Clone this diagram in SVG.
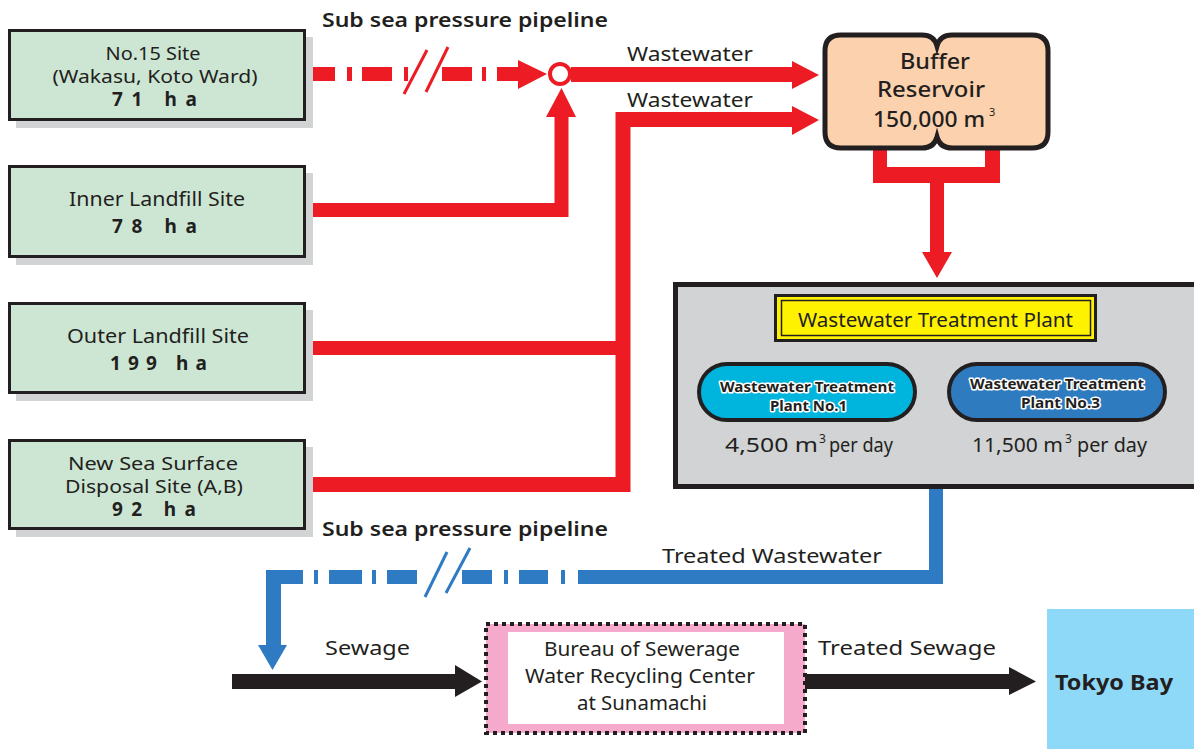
<svg xmlns="http://www.w3.org/2000/svg" width="1194" height="749" viewBox="0 0 1194 749">
<defs>
<style>
.t{font-family:"Noto Sans","Liberation Sans",sans-serif;fill:#231f20;font-size:19px}
.b{font-weight:bold}
.sb{font-weight:600}
.m{text-anchor:middle}
.f17{font-size:17.5px}
.f20{font-size:20px}
.f23{font-size:21.5px;font-weight:500}
.site{fill:#cde6d4;stroke:#231f20;stroke-width:3}
.shadow{fill:#d1d3d4}
.red{fill:#ed1c24}
.redl{stroke:#ed1c24;fill:none}
.blue{fill:#2e7bc4}
.bluel{stroke:#2e7bc4;fill:none}
.blk{fill:#231f20}
.halo{paint-order:stroke;stroke:#ffffff;stroke-width:3px;stroke-linejoin:round;font-weight:bold;font-size:14.5px}
.sup{font-size:12px}
.sup2{font-size:11px}
</style>
</defs>
<rect width="1194" height="749" fill="#ffffff"/>

<!-- connectors -->
<g id="connectors">
  <!-- top dashed pressure pipeline -->
  <rect class="red" x="305" y="67" width="30" height="14"/>
  <rect class="red" x="347" y="67" width="5" height="14"/>
  <rect class="red" x="362" y="67" width="30" height="14"/>
  <rect class="red" x="404" y="67" width="4" height="14"/>
  <rect class="red" x="442" y="67" width="30" height="14"/>
  <rect class="red" x="482" y="67" width="4" height="14"/>
  <rect class="red" x="497" y="67" width="22" height="14"/>
  <polygon class="red" points="518,60 547,74 518,89"/>
  <line class="redl" x1="427" y1="50" x2="404" y2="94" stroke-width="3"/>
  <line class="redl" x1="448" y1="47" x2="426" y2="92" stroke-width="3"/>
  <!-- junction -->
  <rect class="red" x="571" y="67" width="222" height="15"/>
  <polygon class="red" points="792,61 819,75 792,89"/>
  <circle cx="560" cy="74" r="10" fill="#ffffff" stroke="#ed1c24" stroke-width="4"/>
  <!-- inner landfill -->
  <path class="redl" d="M305,210 H561.5 V116" stroke-width="14"/>
  <polygon class="red" points="546,117 561.5,88 576,117"/>
  <!-- outer + new sea -->
  <path class="redl" d="M305,348 H623" stroke-width="14"/>
  <path class="redl" d="M305,484.5 H623 V119.5 H793" stroke-width="15"/>
  <polygon class="red" points="792,106 819,120 792,135"/>
  <!-- reservoir outflow -->
  <path class="red" d="M873,150 H887 V167 H985 V150 H1000 V183 H944 V252 H952 L937,278 L922,252 H930 V183 H873 Z"/>
  <!-- treated wastewater blue -->
  <path class="bluel" d="M936,489 V577 H578" stroke-width="14"/>
  <rect class="blue" x="266" y="570" width="37" height="14"/>
  <rect class="blue" x="266" y="570" width="15" height="76"/>
  <polygon class="blue" points="258,645 287,645 272.5,670"/>
  <rect class="blue" x="314" y="570" width="4" height="14"/>
  <rect class="blue" x="329" y="570" width="33" height="14"/>
  <rect class="blue" x="372" y="570" width="4" height="14"/>
  <rect class="blue" x="387" y="570" width="30" height="14"/>
  <rect class="blue" x="462" y="570" width="30" height="14"/>
  <rect class="blue" x="504" y="570" width="4" height="14"/>
  <rect class="blue" x="519" y="570" width="29" height="14"/>
  <rect class="blue" x="561" y="570" width="4" height="14"/>
  <line class="bluel" x1="447" y1="552" x2="425" y2="597" stroke-width="3"/>
  <line class="bluel" x1="470" y1="548" x2="446" y2="593" stroke-width="3"/>
  <!-- sewage black arrows -->
  <rect class="blk" x="232" y="674" width="224" height="15"/>
  <polygon class="blk" points="455,665 482,681.5 455,697"/>
  <rect class="blk" x="805" y="674" width="205" height="15"/>
  <polygon class="blk" points="1009,667 1036,681.5 1009,695"/>
  <!-- labels -->
  <text class="t sb" x="322" y="27" textLength="286" lengthAdjust="spacingAndGlyphs">Sub sea pressure pipeline</text>
  <text class="t f20" x="627" y="61" textLength="126" lengthAdjust="spacingAndGlyphs">Wastewater</text>
  <text class="t f20" x="627" y="107" textLength="126" lengthAdjust="spacingAndGlyphs">Wastewater</text>
  <text class="t sb" x="322" y="536" textLength="286" lengthAdjust="spacingAndGlyphs">Sub sea pressure pipeline</text>
  <text class="t f20" x="662" y="563" textLength="220" lengthAdjust="spacingAndGlyphs">Treated Wastewater</text>
  <text class="t f20" x="325" y="655" textLength="85" lengthAdjust="spacingAndGlyphs">Sewage</text>
  <text class="t f20" x="818" y="655" textLength="178" lengthAdjust="spacingAndGlyphs">Treated Sewage</text>
</g>

<!-- site nodes -->
<g id="site-no15">
  <rect class="shadow" x="16" y="37" width="297" height="91"/>
  <rect class="site" x="9.5" y="30.5" width="295" height="89"/>
  <text class="t m f17" x="153" y="60" textLength="95" lengthAdjust="spacingAndGlyphs">No.15 Site</text>
  <text class="t m f17" x="155" y="83" textLength="205" lengthAdjust="spacingAndGlyphs">(Wakasu, Koto Ward)</text>
  <text class="t b" x="112" y="106" textLength="85" lengthAdjust="spacing">71 ha</text>
</g>
<g id="site-inner">
  <rect class="shadow" x="16" y="173" width="297" height="92"/>
  <rect class="site" x="9.5" y="166.5" width="295" height="90"/>
  <text class="t m" x="157" y="206" textLength="176" lengthAdjust="spacingAndGlyphs">Inner Landfill Site</text>
  <text class="t b" x="112" y="233" textLength="85" lengthAdjust="spacing">78 ha</text>
</g>
<g id="site-outer">
  <rect class="shadow" x="16" y="310" width="297" height="91"/>
  <rect class="site" x="9.5" y="303.5" width="295" height="89"/>
  <text class="t m" x="158" y="343" textLength="182" lengthAdjust="spacingAndGlyphs">Outer Landfill Site</text>
  <text class="t b" x="110" y="370" textLength="97" lengthAdjust="spacing">199 ha</text>
</g>
<g id="site-newsea">
  <rect class="shadow" x="16" y="447" width="297" height="90"/>
  <rect class="site" x="9.5" y="440.5" width="295" height="88"/>
  <text class="t m f17" x="153" y="470" textLength="170" lengthAdjust="spacingAndGlyphs">New Sea Surface</text>
  <text class="t m f17" x="154" y="493" textLength="178" lengthAdjust="spacingAndGlyphs">Disposal Site (A,B)</text>
  <text class="t b" x="112" y="516" textLength="84" lengthAdjust="spacing">92 ha</text>
</g>

<!-- buffer reservoir -->
<g id="buffer-reservoir">
  <path d="M841,35 H922 Q934,35 937,46 Q940,35 952,35 H1032 Q1048,35 1048,51 V132 Q1048,148 1032,148 H952 Q940,148 937,137 Q934,148 922,148 H841 Q825,148 825,132 V51 Q825,35 841,35 Z" fill="#fcd1ad" stroke="#231f20" stroke-width="5"/>
  <text class="t m f23" x="935" y="69" textLength="70" lengthAdjust="spacingAndGlyphs">Buffer</text>
  <text class="t m f23" x="931" y="97" textLength="108" lengthAdjust="spacingAndGlyphs">Reservoir</text>
  <text class="t f23" x="873" y="127" textLength="112" lengthAdjust="spacingAndGlyphs">150,000 m</text>
  <text class="t sup2" x="989" y="116">3</text>
</g>

<!-- treatment plant -->
<g id="treatment-plant">
  <rect x="675.5" y="284.5" width="530" height="202" fill="#d1d3d4" stroke="#231f20" stroke-width="5"/>
  <rect x="775.5" y="295.5" width="320" height="45" fill="#fff200" stroke="#231f20" stroke-width="3"/>
  <rect x="781.5" y="300.5" width="309" height="35" fill="none" stroke="#231f20" stroke-width="1.5"/>
  <text class="t" x="798" y="327" textLength="275" lengthAdjust="spacingAndGlyphs">Wastewater Treatment Plant</text>
</g>
<g id="plant-no1">
  <rect x="699" y="364" width="216" height="56" rx="28" fill="#00b5dd" stroke="#231f20" stroke-width="4"/>
  <text class="t halo" x="720" y="392" textLength="174" lengthAdjust="spacingAndGlyphs">Wastewater Treatment</text>
  <text class="t halo" x="770" y="411" textLength="77" lengthAdjust="spacingAndGlyphs">Plant No.1</text>
  <text class="t" x="725" y="452" textLength="93" lengthAdjust="spacingAndGlyphs">4,500 m</text>
  <text class="t sup" x="819" y="443">3</text>
  <text class="t" x="829" y="452" textLength="64" lengthAdjust="spacingAndGlyphs">per day</text>
</g>
<g id="plant-no3">
  <rect x="949" y="364" width="216" height="56" rx="28" fill="#2f7bc0" stroke="#231f20" stroke-width="4"/>
  <text class="t halo" x="970" y="389" textLength="174" lengthAdjust="spacingAndGlyphs">Wastewater Treatment</text>
  <text class="t halo" x="1021" y="408" textLength="79" lengthAdjust="spacingAndGlyphs">Plant No.3</text>
  <text class="t" x="972" y="452" textLength="91" lengthAdjust="spacingAndGlyphs">11,500 m</text>
  <text class="t sup" x="1065" y="443">3</text>
  <text class="t" x="1077" y="452" textLength="70" lengthAdjust="spacingAndGlyphs">per day</text>
</g>

<!-- water recycling center -->
<g id="sunamachi-center">
  <rect x="486" y="624" width="319" height="109" fill="#f5a9cb" stroke="#231f20" stroke-width="4" stroke-dasharray="4 4"/>
  <rect x="508" y="632" width="276" height="92" fill="#ffffff"/>
  <text class="t m" x="642" y="656" textLength="196" lengthAdjust="spacingAndGlyphs">Bureau of Sewerage</text>
  <text class="t m" x="640" y="683" textLength="230" lengthAdjust="spacingAndGlyphs">Water Recycling Center</text>
  <text class="t m" x="642" y="710" textLength="130" lengthAdjust="spacingAndGlyphs">at Sunamachi</text>
</g>

<!-- tokyo bay -->
<g id="tokyo-bay">
  <rect x="1047" y="609" width="147" height="140" fill="#8ed8f8"/>
  <text class="t b" x="1055" y="690" style="font-size:21px" textLength="118" lengthAdjust="spacingAndGlyphs">Tokyo Bay</text>
</g>
</svg>
